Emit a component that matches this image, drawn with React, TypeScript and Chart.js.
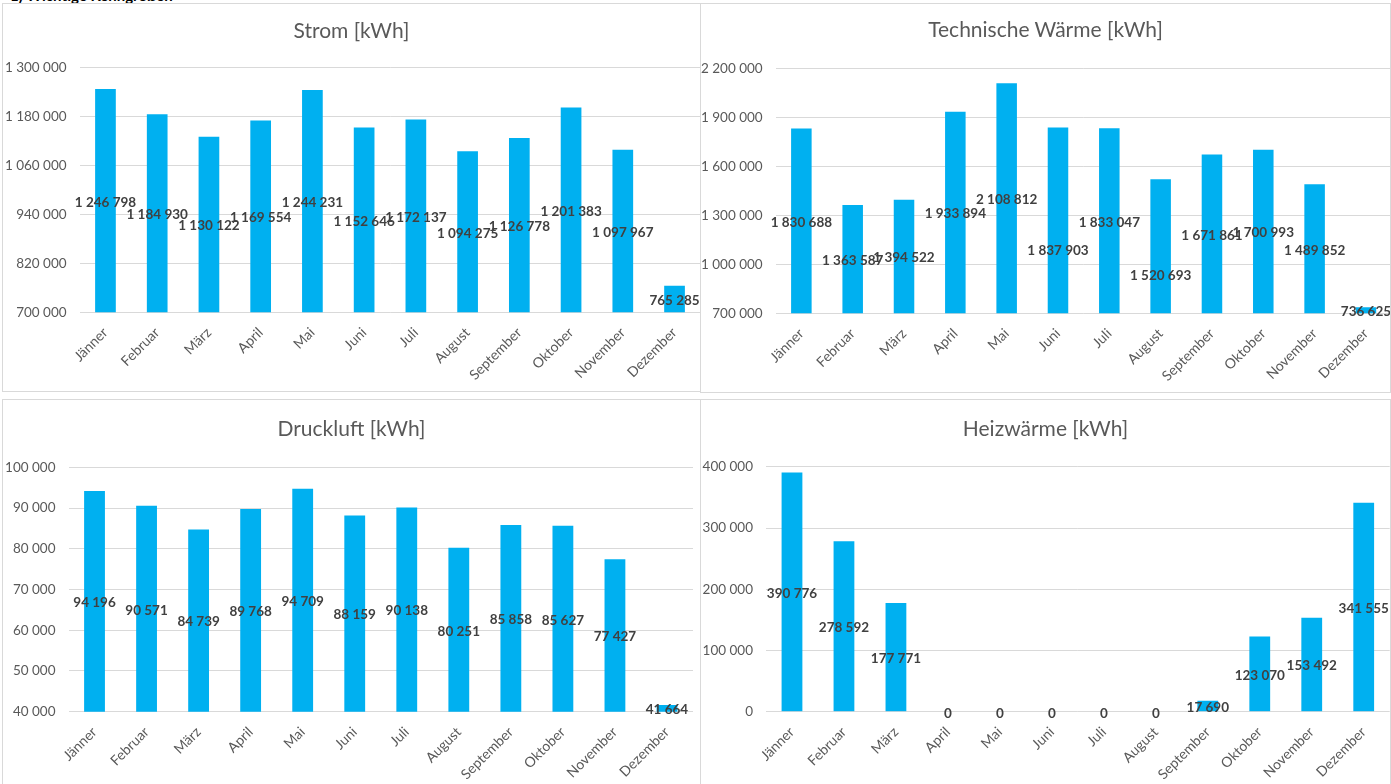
import React, { useEffect, useRef } from 'react';
import { Chart, registerables } from 'chart.js';

Chart.register(...registerables);

const months = ['Jänner', 'Februar', 'März', 'April', 'Mai', 'Juni', 'Juli', 'August', 'September', 'Oktober', 'November', 'Dezember'];

const strom = [1246798, 1184930, 1130122, 1169554, 1244231, 1152646, 1172137, 1094275, 1126778, 1201383, 1097967, 765285];
const technischeWaerme = [1830688, 1363587, 1394522, 1933894, 2108812, 1837903, 1833047, 1520693, 1671861, 1700993, 1489852, 736625];
const druckluft = [94196, 90571, 84739, 89768, 94709, 88159, 90138, 80251, 85858, 85627, 77427, 41664];
const heizwaerme = [390776, 278592, 177771, 0, 0, 0, 0, 0, 17690, 123070, 153492, 341555];

const stromAxis = [700000, 1300000, 120000];
const technischeWaermeAxis = [700000, 2200000, 300000];
const druckluftAxis = [40000, 100000, 10000];
const heizwaermeAxis = [0, 400000, 100000];

const FONT = 'Lato, "Open Sans", sans-serif';
const BAR = '#00B0F0';
const GRID = '#D9D9D9';
const TEXT = '#595959';
const LABEL = '#404040';

const fmt = (v: number) => String(Math.round(v)).replace(/\B(?=(\d{3})+(?!\d))/g, ' ');

const labelPlugin = {
  id: 'centerLabels',
  afterDatasetsDraw(chart: any, _args: any, opts: any) {
    const ctx = chart.ctx;
    const meta = chart.getDatasetMeta(0);
    const values = chart.data.datasets[0].data as number[];
    const nudge = (opts && opts.nudge) || {};
    const bottom = chart.chartArea.bottom;
    ctx.save();
    ctx.font = `bold 13.5px ${FONT}`;
    ctx.fillStyle = LABEL;
    ctx.textAlign = 'center';
    ctx.textBaseline = 'middle';
    meta.data.forEach((el: any, i: number) => {
      const p = el.getProps(['x', 'y', 'base'], true);
      const base = Math.min(p.base, bottom);
      ctx.fillText(fmt(values[i]), p.x, (p.y + base) / 2 + 1.5 + (nudge[i] || 0));
    });
    ctx.restore();
  },
};

type Spec = {
  title: string;
  values: number[];
  axis: number[];
  canvas: { left: number; top: number; width: number; height: number };
  yWidth: number;
  padTop: number;
  padRight: number;
  xHeight: number;
  nudge?: Record<number, number>;
};

function BarPanel({ spec }: { spec: Spec }) {
  const ref = useRef<HTMLCanvasElement | null>(null);
  useEffect(() => {
    if (!ref.current) return;
    const chart = new Chart(ref.current, {
      type: 'bar',
      data: {
        labels: months,
        datasets: [
          {
            data: spec.values,
            backgroundColor: BAR,
            borderWidth: 0,
            barPercentage: 0.4,
            categoryPercentage: 1.0,
          },
        ],
      },
      options: {
        responsive: false,
        animation: false,
        devicePixelRatio: 1,
        layout: { padding: { top: spec.padTop, right: spec.padRight, left: 0, bottom: 0 } },
        plugins: {
          legend: { display: false },
          tooltip: { enabled: false },
          title: { display: false },
          centerLabels: { nudge: spec.nudge || {} },
        } as any,
        scales: {
          x: {
            grid: { display: false },
            border: { display: false },
            ticks: {
              autoSkip: false,
              minRotation: 45,
              maxRotation: 45,
              padding: 4,
              color: TEXT,
              font: { family: FONT, size: 14 },
            },
            afterFit: (s: any) => {
              s.height = spec.xHeight;
            },
          },
          y: {
            min: spec.axis[0],
            max: spec.axis[1],
            grid: { color: GRID, lineWidth: 1, drawTicks: false },
            border: { display: false },
            ticks: {
              stepSize: spec.axis[2],
              padding: 13,
              color: TEXT,
              font: { family: FONT, size: 13.5 },
              callback: (v: any) => fmt(Number(v)),
            },
            afterFit: (s: any) => {
              s.width = spec.yWidth;
            },
          },
        },
      },
      plugins: [labelPlugin],
    });
    return () => chart.destroy();
  }, [spec]);
  const c = spec.canvas;
  return (
    <canvas
      ref={ref}
      width={c.width}
      height={c.height}
      style={{ position: 'absolute', left: c.left, top: c.top, width: c.width, height: c.height }}
    />
  );
}

const specs: Spec[] = [
  {
    title: 'Strom [kWh]',
    values: strom,
    axis: stromAxis,
    canvas: { left: 2, top: 3, width: 699, height: 389 },
    yWidth: 77.6,
    padTop: 64.3,
    padRight: 0.6,
    xHeight: 79.7,
  },
  {
    title: 'Technische Wärme [kWh]',
    values: technischeWaerme,
    axis: technischeWaermeAxis,
    canvas: { left: 700, top: 3, width: 692, height: 389 },
    yWidth: 75.7,
    padTop: 65.3,
    padRight: 0.4,
    xHeight: 78.7,
    nudge: { 5: 29, 7: 28 },
  },
  {
    title: 'Druckluft [kWh]',
    values: druckluft,
    axis: druckluftAxis,
    canvas: { left: 2, top: 399, width: 698, height: 385 },
    yWidth: 66.5,
    padTop: 68.3,
    padRight: 7,
    xHeight: 72.3,
  },
  {
    title: 'Heizwärme [kWh]',
    values: heizwaerme,
    axis: heizwaermeAxis,
    canvas: { left: 700, top: 399, width: 691, height: 385 },
    yWidth: 66,
    padTop: 67.9,
    padRight: 1.3,
    xHeight: 72.3,
  },
];

const panels = [
  { left: 2, top: 3, width: 699, height: 389, titleY: 18 },
  { left: 700, top: 3, width: 691, height: 390, titleY: 17 },
  { left: 2, top: 399, width: 699, height: 400, titleY: 416 },
  { left: 700, top: 399, width: 691, height: 400, titleY: 416 },
];

export default function App() {
  return (
    <div
      style={{
        position: 'fixed',
        left: 0,
        top: 0,
        width: 1391,
        height: 784,
        overflow: 'hidden',
        background: '#ffffff',
        fontFamily: FONT,
      }}
    >
      <div
        style={{
          position: 'absolute',
          left: 10,
          top: -14,
          fontSize: 15,
          lineHeight: '18px',
          fontWeight: 700,
          color: '#000',
          whiteSpace: 'nowrap',
        }}
      >
        1) Wichtige Kenngrößen
      </div>
      {specs.map((s, i) => (
        <BarPanel key={i} spec={s} />
      ))}
      {panels.map((p, i) => (
        <React.Fragment key={i}>
          <div
            style={{
              position: 'absolute',
              left: p.left,
              top: p.top,
              width: p.width,
              height: p.height,
              border: `1px solid ${GRID}`,
              boxSizing: 'border-box',
              pointerEvents: 'none',
            }}
          />
          <div
            style={{
              position: 'absolute',
              left: p.left,
              top: p.titleY,
              width: p.width,
              textAlign: 'center',
              fontSize: 21,
              lineHeight: '24px',
              color: TEXT,
              whiteSpace: 'nowrap',
            }}
          >
            {specs[i].title}
          </div>
        </React.Fragment>
      ))}
    </div>
  );
}
